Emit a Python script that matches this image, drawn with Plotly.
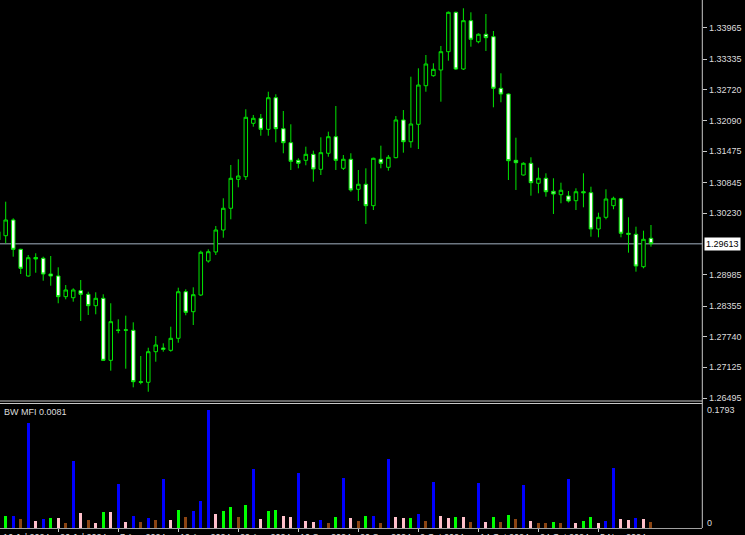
import plotly.graph_objects as go

# ---------------- data ----------------
bars = list(range(-1, 87))
opens = [1.29687, 1.29773, 1.30090, 1.29499, 1.28961, 1.29334, 1.29318, 1.29001, 1.28961, 1.28544, 1.28523,
         1.28665, 1.28592, 1.28362, 1.28511, 1.27261, 1.27872, 1.27875, 1.27866, 1.26830, 1.26818,
         1.27435, 1.27509, 1.27463, 1.27705, 1.28644, 1.28241, 1.28578, 1.29263, 1.29445, 1.29888,
         1.30326, 1.30910, 1.30963, 1.32039, 1.32140, 1.31918, 1.32555, 1.31930, 1.31648, 1.31293,
         1.31293, 1.31414, 1.31112, 1.31435, 1.31769, 1.31132, 1.31314, 1.30709, 1.30810, 1.30378,
         1.31314, 1.31152, 1.31346, 1.32106, 1.31668, 1.32019, 1.32797, 1.32999, 1.33114, 1.33483,
         1.34277, 1.33134, 1.34108, 1.33684, 1.33834, 1.33785, 1.32745, 1.32630, 1.31293, 1.30997,
         1.31233, 1.30830, 1.30931, 1.30668, 1.30600, 1.30574, 1.30479, 1.30660, 1.30640, 1.29908,
         1.30144, 1.30378, 1.30519, 1.29822, 1.29802, 1.29148, 1.29721]
highs = [1.29929, 1.30459, 1.30124, 1.29510, 1.29384, 1.29419, 1.29350, 1.29364, 1.29136, 1.28779, 1.28713,
         1.28880, 1.28644, 1.28632, 1.28592, 1.28411, 1.28088, 1.28161, 1.28027, 1.27348, 1.27515,
         1.27751, 1.27604, 1.27939, 1.28725, 1.28693, 1.28733, 1.29471, 1.29499, 1.29969, 1.30527,
         1.31199, 1.31314, 1.32322, 1.32207, 1.32227, 1.32676, 1.32624, 1.32287, 1.32019, 1.31334,
         1.31568, 1.31487, 1.31757, 1.31870, 1.32388, 1.31400, 1.31435, 1.31098, 1.31132, 1.31346,
         1.31588, 1.31400, 1.32186, 1.32307, 1.32979, 1.33148, 1.33416, 1.33249, 1.33598, 1.34293,
         1.34289, 1.34358, 1.34277, 1.33854, 1.34243, 1.33900, 1.33047, 1.32644, 1.31749, 1.31253,
         1.31354, 1.31144, 1.31031, 1.30931, 1.30842, 1.30674, 1.30729, 1.31031, 1.30761, 1.30237,
         1.30709, 1.30560, 1.30539, 1.30144, 1.29955, 1.29874, 1.29989]
lows = [1.29626, 1.29620, 1.29350, 1.29001, 1.28947, 1.29027, 1.28866, 1.28765, 1.28411, 1.28491, 1.28443,
        1.28054, 1.28175, 1.28189, 1.27247, 1.27052, 1.27806, 1.27092, 1.26717, 1.26778, 1.26628,
        1.27233, 1.27435, 1.27435, 1.27616, 1.28169, 1.27973, 1.28558, 1.29229, 1.29384, 1.29733,
        1.30104, 1.30749, 1.30896, 1.31971, 1.31789, 1.31789, 1.31656, 1.31435, 1.31098, 1.31132,
        1.31193, 1.30862, 1.30997, 1.31366, 1.31098, 1.31098, 1.30660, 1.30473, 1.30009, 1.30291,
        1.31132, 1.31084, 1.31334, 1.31447, 1.31547, 1.31521, 1.32676, 1.32979, 1.32475, 1.33301,
        1.33114, 1.33114, 1.33584, 1.33652, 1.33497, 1.32362, 1.32463, 1.30896, 1.30695, 1.30987,
        1.30580, 1.30628, 1.30560, 1.30211, 1.30427, 1.30443, 1.30291, 1.30346, 1.29753, 1.29741,
        1.30104, 1.30306, 1.29741, 1.29431, 1.29048, 1.29116, 1.29552]
closes = [1.29854, 1.30090, 1.29499, 1.29116, 1.29330, 1.29304, 1.29001, 1.28961, 1.28544, 1.28679, 1.28679,
          1.28592, 1.28362, 1.28511, 1.27261, 1.28040, 1.27866, 1.27869, 1.26830, 1.26818, 1.27435,
          1.27570, 1.27483, 1.27705, 1.28644, 1.28229, 1.28584, 1.29439, 1.29451, 1.29888, 1.30326,
          1.30931, 1.30977, 1.32160, 1.32140, 1.31918, 1.32555, 1.31930, 1.31648, 1.31273, 1.31233,
          1.31414, 1.31118, 1.31447, 1.31769, 1.31293, 1.31314, 1.30695, 1.30810, 1.30378, 1.31334,
          1.31233, 1.31354, 1.32106, 1.31668, 1.32025, 1.32811, 1.33235, 1.33128, 1.33483, 1.34277,
          1.33134, 1.34108, 1.33733, 1.33834, 1.33765, 1.32745, 1.32630, 1.31285, 1.31245, 1.31233,
          1.30842, 1.30931, 1.30660, 1.30614, 1.30689, 1.30473, 1.30660, 1.30640, 1.29908, 1.30144,
          1.30513, 1.30527, 1.29822, 1.29802, 1.29162, 1.29701, 1.29613]

mfi_bars = list(range(0, 87))
mfi_values = [0.0178, 0.0180, 0.0137, 0.1589, 0.0107, 0.0133, 0.0153, 0.0150, 0.0076, 0.1016,
              0.0224, 0.0122, 0.0076, 0.0239, 0.0238, 0.0666, 0.0091, 0.0178, 0.0091, 0.0152,
              0.0122, 0.0746, 0.0122, 0.0270, 0.0168, 0.0259, 0.0407, 0.1793, 0.0209, 0.0254,
              0.0309, 0.0168, 0.0346, 0.0888, 0.0137, 0.0254, 0.0270, 0.0178, 0.0163, 0.0827,
              0.0107, 0.0091, 0.0117, 0.0076, 0.0163, 0.0762, 0.0152, 0.0102, 0.0178, 0.0180,
              0.0076, 0.1046, 0.0163, 0.0152, 0.0155, 0.0209, 0.0107, 0.0701, 0.0178, 0.0152,
              0.0168, 0.0166, 0.0091, 0.0675, 0.0091, 0.0168, 0.0091, 0.0193, 0.0137, 0.0650,
              0.0107, 0.0076, 0.0074, 0.0091, 0.0076, 0.0736, 0.0076, 0.0107, 0.0168, 0.0076,
              0.0102, 0.0903, 0.0133, 0.0117, 0.0152, 0.0133, 0.0081]
mfi_zones = ["green", "fake", "fade", "fake", "squat", "fake", "green", "squat", "fade", "fake",
             "squat", "fade", "squat", "green", "squat", "fake", "squat", "fake", "fade", "fake",
             "fade", "fake", "squat", "green", "fade", "fake", "fake", "fake", "squat", "green",
             "green", "fade", "green", "fake", "squat", "green", "green", "squat", "squat", "fake",
             "squat", "squat", "fake", "fade", "green", "fake", "squat", "fade", "green", "fake",
             "fade", "fake", "squat", "squat", "green", "fake", "fade", "fake", "squat", "squat",
             "green", "squat", "fade", "fake", "squat", "green", "fade", "green", "fade", "fake",
             "squat", "fade", "fade", "green", "fade", "fake", "squat", "green", "green", "squat",
             "fake", "fake", "squat", "squat", "fake", "squat", "fade"]

price_ticks = [1.33965, 1.33335, 1.32720, 1.32090, 1.31475, 1.30845, 1.30230,
               1.28985, 1.28355, 1.27740, 1.27125, 1.26495]
last_price = 1.29613
mfi_max = 0.1793
mfi_last = 0.0081
time_tick_bars = [7, 15, 23, 31, 39, 47, 55, 63, 71, 79]
time_labels = ["16 Jul 2024", "26 Jul 2024", "7 Aug 2024", "19 Aug 2024", "29 Aug 2024",
               "10 Sep 2024", "20 Sep 2024", "2 Oct 2024", "14 Oct 2024", "24 Oct 2024",
               "5 Nov 2024"]

# ---------------- styling ----------------
zone_colors = {"green": "#00ff00", "fade": "#8b4513", "fake": "#0000ff", "squat": "#ffc0cb"}
W, H = 745, 535
XR = 702.3 / W
FONT = "Liberation Sans"
GRAY = "#c8c8c8"
TXT = "#dcdcdc"


def py(px):
    return 1 - px / H


xrange = [-0.76, 92.84]

fig = go.Figure()
fig.add_trace(go.Candlestick(
    x=bars, open=opens, high=highs, low=lows, close=closes,
    increasing=dict(line=dict(color="#00e600", width=1), fillcolor="#000000"),
    decreasing=dict(line=dict(color="#00e600", width=1), fillcolor="#ffffff"),
    whiskerwidth=0, hoverinfo="skip", xaxis="x", yaxis="y", showlegend=False,
))
fig.add_trace(go.Bar(
    x=mfi_bars, y=mfi_values, width=0.4,
    marker=dict(color=[zone_colors[z] for z in mfi_zones], line=dict(width=0)),
    xaxis="x2", yaxis="y2", showlegend=False, hoverinfo="skip",
))

shapes = [
    dict(type="line", xref="paper", yref="y", x0=0, x1=XR, y0=last_price, y1=last_price,
         line=dict(color="#6d7781", width=1.5), layer="below"),
    dict(type="line", xref="paper", yref="paper", x0=XR, x1=XR, y0=py(528), y1=1,
         line=dict(color=GRAY, width=1)),
    dict(type="line", xref="paper", yref="paper", x0=0, x1=XR, y0=py(401), y1=py(401),
         line=dict(color=GRAY, width=1)),
    dict(type="line", xref="paper", yref="paper", x0=0, x1=XR, y0=py(403.5), y1=py(403.5),
         line=dict(color=GRAY, width=1)),
]

annotations = [
    dict(text="1.29613", xref="paper", yref="y", x=704 / W, y=last_price, xanchor="left",
         yanchor="middle", showarrow=False, bgcolor="#ffffff",
         font=dict(family=FONT, size=9, color="#000000"), borderpad=1),
    dict(text="BW MFI 0.0081", xref="paper", yref="paper", x=2 / W, y=py(411.5), xanchor="left",
         yanchor="middle", showarrow=False, font=dict(family=FONT, size=9, color=TXT)),
    dict(text="0.1793", xref="paper", yref="y2", x=705 / W, y=mfi_max, xanchor="left",
         yanchor="middle", showarrow=False, font=dict(family=FONT, size=9, color=TXT)),
    dict(text="0", xref="paper", yref="y2", x=705 / W, y=0.0076, xanchor="left",
         yanchor="middle", showarrow=False, font=dict(family=FONT, size=9, color=TXT)),
]
label_pos = [xrange[0] + 0.1] + time_tick_bars
for b, t in zip(label_pos, time_labels):
    annotations.append(dict(text=t, xref="x2", yref="paper", x=b, y=py(530), xanchor="left",
                            yanchor="top", showarrow=False,
                            font=dict(family=FONT, size=9, color=TXT)))

fig.update_layout(
    width=W, height=H,
    margin=dict(l=0, r=0, t=0, b=0, autoexpand=False),
    paper_bgcolor="#000000", plot_bgcolor="#000000",
    boxgap=0.33,
    xaxis=dict(domain=[0, XR], range=xrange, visible=False, anchor="y", fixedrange=True,
               rangeslider=dict(visible=False)),
    yaxis=dict(domain=[py(400), 1], range=[1.26461, 1.34525], side="right",
               tickvals=price_ticks, ticktext=[f"{v:.5f}" for v in price_ticks],
               ticks="outside", ticklen=4, tickcolor=GRAY, showgrid=False, zeroline=False,
               showline=False, automargin=False,
               tickfont=dict(family=FONT, size=9, color=TXT), anchor="x"),
    xaxis2=dict(domain=[0, XR], range=xrange, anchor="y2", showgrid=False, zeroline=False,
                showline=True, linecolor="#a0a0a0", linewidth=1, automargin=False,
                tickvals=time_tick_bars, ticks="outside", ticklen=3, tickcolor=GRAY,
                showticklabels=False),
    yaxis2=dict(domain=[py(528), py(405)], range=[-0.00046, 0.18693], visible=False,
                anchor="x2"),
    shapes=shapes,
    annotations=annotations,
    bargap=0,
)

fig.write_html(
    "out.html",
    config={"displayModeBar": False, "staticPlot": True},
    post_script="document.body.style.margin='0px';document.body.style.overflow='hidden';"
                "document.body.style.background='#000000';",
)
